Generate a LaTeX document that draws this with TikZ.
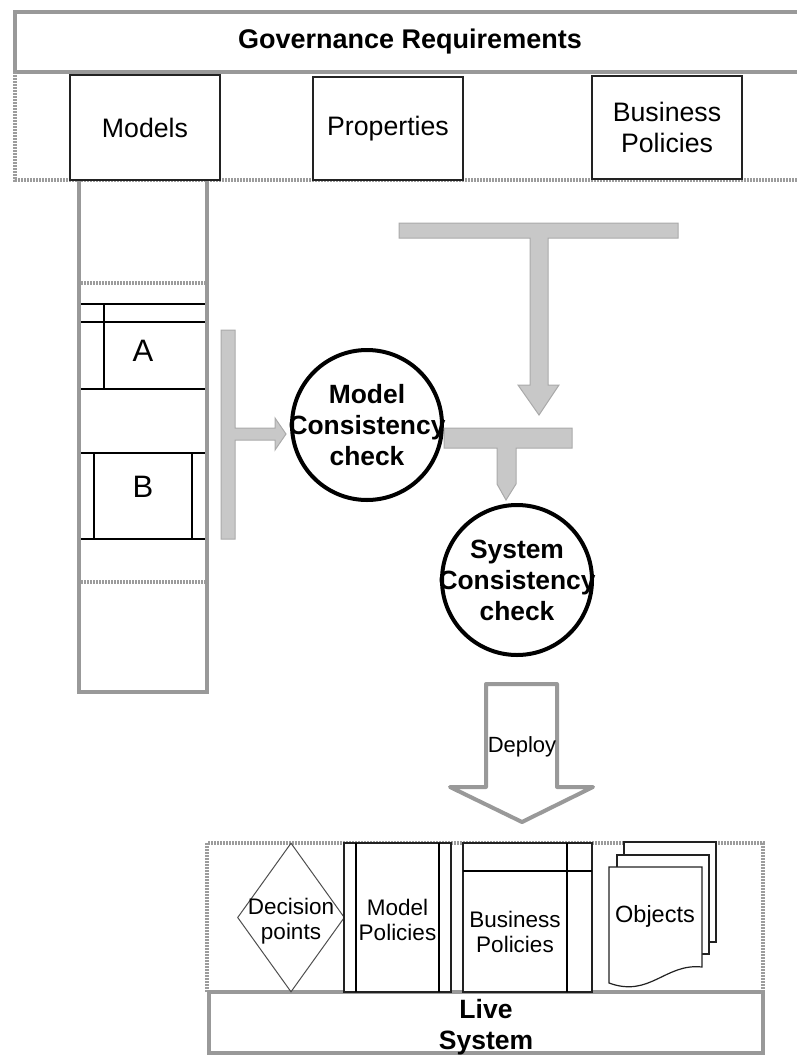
\documentclass[tikz,border=0pt]{standalone}
\usepackage{fontspec}
\setmainfont{Liberation Sans}
\usetikzlibrary{shapes.geometric}
\definecolor{frame}{HTML}{999999}
\definecolor{dotc}{HTML}{9C9C9C}
\definecolor{flowfill}{HTML}{C8C8C8}
\definecolor{flowline}{HTML}{AAAAAA}
\definecolor{thin}{HTML}{222222}
\tikzset{
  heavy/.style={draw=frame, line width=4pt},
  dotted border/.style={draw=dotc, line width=3.5pt, dash pattern=on 2pt off 1pt},
  thinbox/.style={draw=thin, line width=1.2pt, fill=white},
  flow/.style={fill=flowfill, draw=flowline, line width=1pt},
  big/.style={font=\fontsize{26.7}{31}\selectfont, align=center},
  bigbold/.style={font=\bfseries\fontsize{26.5}{31}\selectfont, align=center},
  small/.style={font=\fontsize{22.5}{25}\selectfont, align=center},
  check/.style={circle, draw=black, line width=4pt, fill=white, minimum size=150pt, inner sep=0pt},
  checktext/.style={font=\bfseries\fontsize{26.4}{31}\selectfont, align=center},
}
\begin{document}
\begin{tikzpicture}[x=1pt,y=-1pt]
\useasboundingbox (0,0) rectangle (797,1055);
\clip (0,0) rectangle (797,1055);

% governance band
\draw[heavy] (820,12) -- (15,12) -- (15,72) -- (820,72);
\draw[dotted border] (15,72) -- (15,180) -- (820,180);
\node[font=\bfseries\fontsize{27}{31}\selectfont] (gov) at (410,42) {Governance Requirements};
\node[thinbox, big, minimum width=150pt, minimum height=105pt] (models) at (145,127.5) {Models};
\node[thinbox, big, minimum width=150pt, minimum height=103pt] (props) at (388,128.5) {Properties};
\node[thinbox, big, minimum width=150pt, minimum height=103pt] (bpol) at (667,127.5) {Business\\Policies};

% model repository column
\draw[heavy] (79,181) -- (79,692) -- (207,692) -- (207,181);
\draw[dotted border] (81,283) -- (205,283);
\draw[dotted border] (81,582) -- (205,582);
\draw[thin, line width=1.2pt] (81,304) -- (205,304) (81,322) -- (205,322) (81,389) -- (205,389) (104,304) -- (104,389);
\draw[thin, line width=1.2pt] (81,453) -- (205,453) (81,539) -- (205,539) (94,453) -- (94,539) (192,453) -- (192,539);
\node[font=\fontsize{31}{34}\selectfont] (a) at (143,351) {A};
\node[font=\fontsize{31}{34}\selectfont] (b) at (143,487) {B};

% consistency checks
\node[check] (mcc) at (367,425) {};
\node[checktext] at (mcc.center) {Model\\Consistency\\check};
\node[check] (scc) at (517,580) {};
\node[checktext] at (scc.center) {System\\Consistency\\check};

% gray flow arrows
\draw[flow] (221,330) -- (235,330) -- (235,428) -- (275,428) -- (275,418) -- (286,434)
  -- (275,450) -- (275,440) -- (235,440) -- (235,539) -- (221,539) -- cycle;
\draw[flow] (399,223) -- (678,223) -- (678,238) -- (548,238) -- (548,385) -- (559,385)
  -- (539,415) -- (518,385) -- (530,385) -- (530,238) -- (399,238) -- cycle;
\draw[flow] (444,428) -- (572,428) -- (572,448) -- (516,448) -- (516,484)
  -- (506,500) -- (497,484) -- (497,448) -- (444,448) -- cycle;

% deployment arrow
\draw[draw=frame, line width=4pt, line join=round, fill=white]
  (486,684) -- (557,684) -- (557,787) -- (593,787) -- (522,822) -- (450,787) -- (486,787) -- cycle;
\node[font=\fontsize{22}{25}\selectfont] (deploy) at (522,747) {Deploy};

% live system
\draw[dotted border] (207,992) -- (207,843) -- (763,843) -- (763,992);
\draw[heavy, fill=white] (209,992) rectangle (763,1053);
\node[bigbold] (live) at (486,1027) {Live\\System};

\node[diamond, draw=thin!80, line width=1pt, minimum width=107pt, minimum height=149pt, inner sep=0pt,
  aspect=0.72] (dec) at (291,917.5) {};
\node[small] at (291,921) {Decision\\points};

\node[thinbox, minimum width=107pt, minimum height=149pt] (mpol) at (397.5,917.5) {};
\draw[thin, line width=1.2pt] (356,843) -- (356,992) (439,843) -- (439,992);
\node[small] at (397.5,920) {Model\\Policies};

\node[thinbox, minimum width=129pt, minimum height=149pt] (lbpol) at (527.5,917.5) {};
\draw[thin, line width=1.2pt] (463,871) -- (592,871) (567,843) -- (567,992);
\node[small] at (515,932) {Business\\Policies};

% object documents
\draw[thinbox] (624,842) rectangle (716,942);
\draw[thinbox] (617,855) rectangle (709,954);
\draw[thinbox] (609,867) -- (702,867) -- (702,967) .. controls (665,963) and (650,998) .. (609,983) -- cycle;
\node[font=\fontsize{23.5}{26}\selectfont] (obj) at (655,916) {Objects};
\end{tikzpicture}
\end{document}
